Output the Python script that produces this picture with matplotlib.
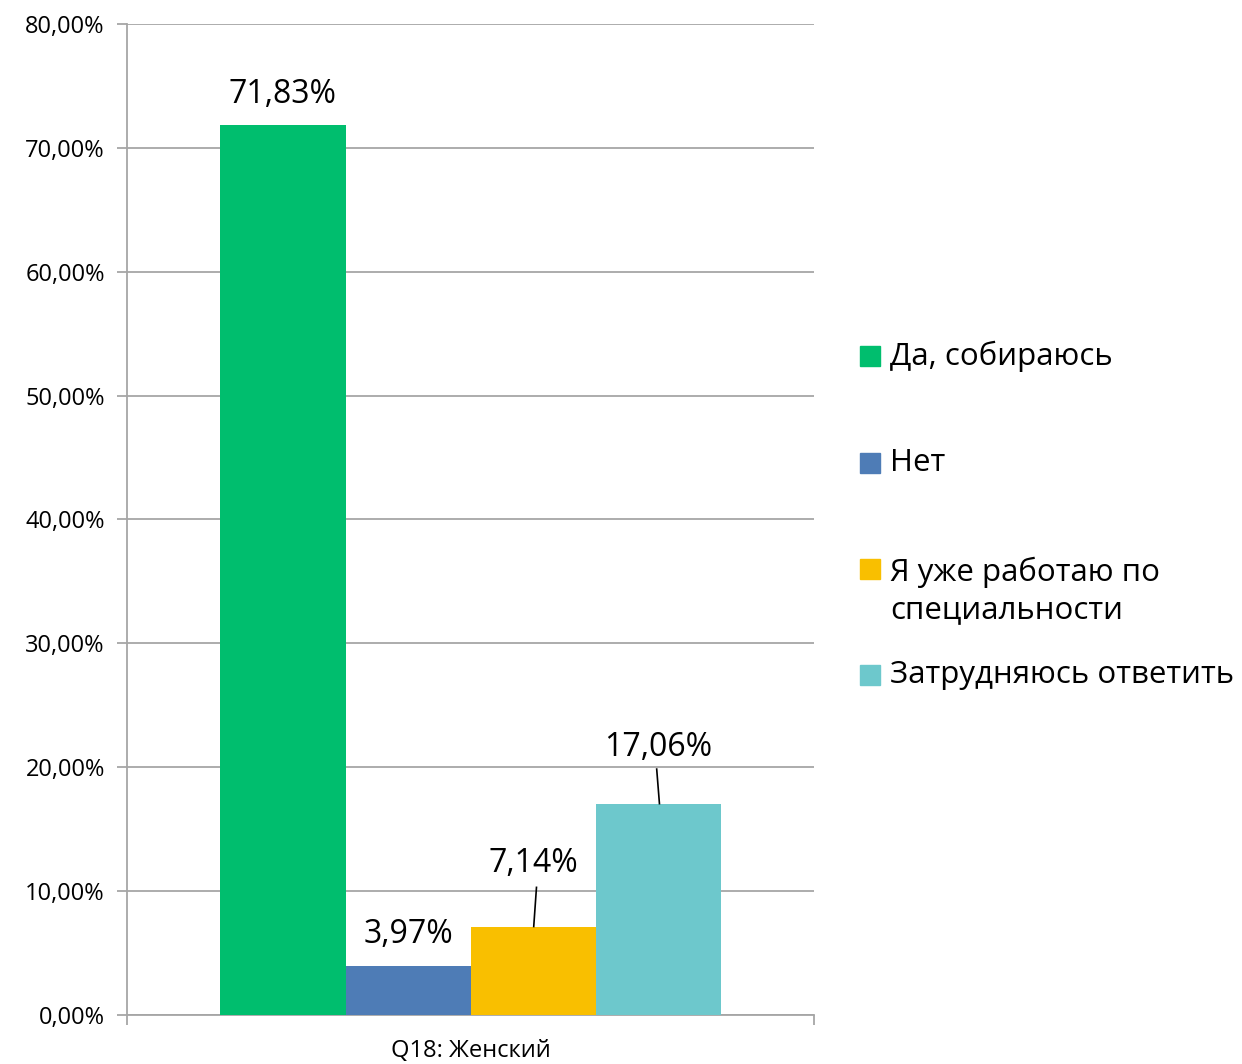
import numpy as np
import matplotlib.pyplot as plt
from matplotlib.patches import Rectangle
from matplotlib.ticker import FuncFormatter

plt.rcParams["font.family"] = ["Open Sans", "DejaVu Sans"]

categories = ["Да, собираюсь", "Нет", "Я уже работаю по\nспециальности", "Затрудняюсь ответить"]
values = [71.83, 3.97, 7.14, 17.06]
colors = ["#00BE6E", "#4E7CB6", "#F9BF00", "#6DC8CC"]
group_label = "Q18: Женский"
yticks = [0, 10, 20, 30, 40, 50, 60, 70, 80]


def pct(v, pos=None):
    return f"{v:.2f}%".replace(".", ",")


fig = plt.figure(figsize=(12.42, 10.64), dpi=100)
ax = fig.add_axes([0.1023, 0.0461, 0.5531, 0.9313])

w = 0.182
xs = 0.5 + (np.arange(len(values)) - 1.5) * w
bars = ax.bar(xs, values, width=w, color=colors, zorder=3)

ax.set_xlim(0, 1)
ax.set_ylim(0, 80)
ax.set_yticks(yticks)
ax.yaxis.set_major_formatter(FuncFormatter(pct))
ax.grid(axis="y", color="#a6a6a6", linewidth=1.3, zorder=0)
ax.tick_params(axis="y", length=7, width=1.3, color="#a6a6a6", labelsize=17, pad=9)
ax.set_xticks([0, 1])
ax.set_xticklabels(["", ""])
ax.tick_params(axis="x", length=7, width=1.3, color="#a6a6a6")
ax.text(0.5, -0.036, group_label, transform=ax.transAxes, ha="center", va="center", fontsize=17)

for s in ["top", "right"]:
    ax.spines[s].set_visible(False)
ax.spines["left"].set_color("#a6a6a6")
ax.spines["bottom"].set_color("#a6a6a6")
ax.spines["left"].set_linewidth(1.3)
ax.spines["bottom"].set_linewidth(1.3)

# data labels, the small ones get leader lines
label_y = [74.3, 6.5, 12.2, 21.6]
# leader line: (dx at label end, y at label end, dx at bar end)
leaders = [None, None, (0.005, 10.3, 0.001), (-0.002, 19.85, 0.002)]
for i, b in enumerate(bars):
    cx = b.get_x() + b.get_width() / 2
    ax.text(cx, label_y[i], pct(values[i]), ha="center", va="center", fontsize=23)
    if leaders[i]:
        dx_top, y_top, dx_bot = leaders[i]
        ax.plot([cx + dx_top, cx + dx_bot], [y_top, values[i]],
                color="black", linewidth=1.2, zorder=4)

# legend
leg_y = [1 - 356 / 1064, 1 - 463 / 1064, 1 - 591 / 1064, 1 - 675 / 1064]
for i, lab in enumerate(categories):
    y = leg_y[i]
    first_line_y = y + (22 / 1064 if "\n" in lab else 0)
    fig.patches.append(Rectangle((860 / 1242, first_line_y - 10 / 1064), 20 / 1242, 20 / 1064,
                                 transform=fig.transFigure, color=colors[i]))
    fig.text(890 / 1242, y, lab, ha="left", va="center", fontsize=22.5, linespacing=1.32)

fig.savefig("out.png", dpi=100)
